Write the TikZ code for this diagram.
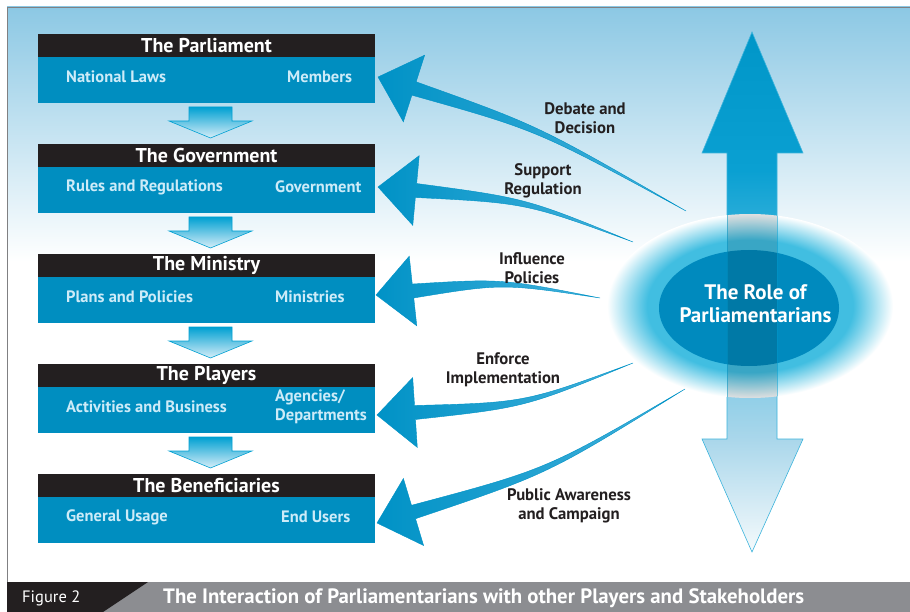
\documentclass[tikz,border=0pt]{standalone}
\usepackage{fontspec}
\setmainfont{PT Sans}
\usetikzlibrary{positioning,calc,shapes.geometric}

\definecolor{headblack}{RGB}{35,31,32}
\definecolor{bodyblue}{RGB}{0,142,192}
\definecolor{bodytextc}{RGB}{205,235,248}
\definecolor{bgtop}{RGB}{140,200,228}
\definecolor{framegray}{RGB}{128,128,130}
\definecolor{bargray}{RGB}{140,141,145}
\definecolor{labelc}{RGB}{35,31,32}
\definecolor{arrowblue}{RGB}{0,146,198}
\definecolor{arrowlight}{RGB}{70,178,220}
\definecolor{roleblue}{RGB}{0,138,190}
\definecolor{glowcyan}{RGB}{65,190,225}
\definecolor{flowtop}{RGB}{0,160,210}
\definecolor{flowbottom}{RGB}{215,238,248}
\definecolor{shaftA}{RGB}{0,150,200}
\definecolor{shaftB}{RGB}{10,160,210}
\definecolor{shaftC}{RGB}{60,180,220}
\definecolor{shaftD}{RGB}{170,215,235}
\definecolor{shaftE}{RGB}{245,250,252}

\pgfdeclareverticalshading{roleshade}{100bp}{color(0bp)=(shaftE); color(25bp)=(shaftE);
  color(35.8bp)=(shaftD); color(54bp)=(shaftC); color(61.7bp)=(shaftB);
  color(75bp)=(shaftA); color(100bp)=(shaftA)}
\pgfdeclareradialshading{glowshade}{\pgfpoint{0bp}{0bp}}{color(0bp)=(glowcyan);
  color(18bp)=(glowcyan); color(25bp)=(white); color(50bp)=(white)}

% tail, control, base of head, tip
\newcommand{\rolearrow}[4]{%
  \coordinate (sp) at ($(#3)!7pt!90:(#4)$);
  \coordinate (sm) at ($(#3)!7pt!-90:(#4)$);
  \coordinate (hp) at ($(#3)!35pt!90:(#4)$);
  \coordinate (hm) at ($(#3)!35pt!-90:(#4)$);
  \coordinate (cp) at ($(#2)+0.35*(sp)-0.35*(#3)$);
  \coordinate (cm) at ($(#2)+0.35*(sm)-0.35*(#3)$);
  \path[curvearrow] (#1) .. controls (cp) .. (sp) -- (hp) -- (#4) -- (hm) -- (sm) .. controls (cm) .. (#1) -- cycle;
}

\begin{document}
\begin{tikzpicture}[x=1pt,y=-1pt,
    headbox/.style={fill=headblack,text=white,font=\bfseries\fontsize{20}{22}\selectfont,
      minimum width=337pt,minimum height=23pt,inner sep=0pt,outer sep=0pt},
    bodybox/.style={fill=bodyblue,minimum width=337pt,minimum height=46pt,inner sep=0pt,
      outer sep=0pt,below=0pt of #1},
    bodytext/.style={text=bodytextc,font=\bfseries\fontsize{16.5}{19}\selectfont,inner sep=0pt,
      align=left,yshift=3pt},
    flowarrow/.style={top color=flowtop,bottom color=flowbottom,draw=flowtop,line width=0.6pt},
    curvearrow/.style={left color=arrowblue,right color=arrowlight,draw=arrowblue,line width=0.4pt},
    label/.style={text=labelc,font=\bfseries\fontsize{16.7}{19}\selectfont,align=center,inner sep=0pt}]

  \useasboundingbox (0,0) rectangle (910,612);
  \fill[white] (0,0) rectangle (910,612);
  \shade[top color=bgtop,bottom color=white] (7,7) rectangle (910,262);
  \draw[framegray,line width=1.5pt] (7.5,582) -- (7.5,7.5) -- (910,7.5);

  % left column
  \node[headbox] (parlhead) at (206.5,45.5) {The Parliament};
  \node[bodybox=parlhead] (parlbody) {};
  \node[headbox,below=41pt of parlbody] (govhead) {The Government};
  \node[bodybox=govhead] (govbody) {};
  \node[headbox,below=41pt of govbody] (minhead) {The Ministry};
  \node[bodybox=minhead] (minbody) {};
  \node[headbox,below=41pt of minbody] (playhead) {The Players};
  \node[bodybox=playhead] (playbody) {};
  \node[headbox,below=41pt of playbody] (benhead) {The Beneficiaries};
  \node[bodybox=benhead] (benbody) {};

  \node[bodytext,anchor=west] (parlleft) at ([xshift=28pt]parlbody.west) {National Laws};
  \node[bodytext,anchor=west] (parlright) at ([xshift=-88pt]parlbody.east) {Members};
  \node[bodytext,anchor=west] (govleft) at ([xshift=28pt]govbody.west) {Rules and Regulations};
  \node[bodytext,anchor=west] (govright) at ([xshift=-100pt]govbody.east) {Government};
  \node[bodytext,anchor=west] (minleft) at ([xshift=28pt]minbody.west) {Plans and Policies};
  \node[bodytext,anchor=west] (minright) at ([xshift=-100pt]minbody.east) {Ministries};
  \node[bodytext,anchor=west] (playleft) at ([xshift=28pt]playbody.west) {Activities and Business};
  \node[bodytext,anchor=west] (playright) at ([xshift=-100pt]playbody.east) {Agencies/\\Departments};
  \node[bodytext,anchor=west] (benleft) at ([xshift=28pt]benbody.west) {General Usage};
  \node[bodytext,anchor=west] (benright) at ([xshift=-94pt]benbody.east) {End Users};

  \foreach \b in {parlbody,govbody,minbody,playbody}
    \path[flowarrow] ($(\b.south)+(-17.5,4)$) -- ++(43,0) -- ++(0,14) -- ++(20,0)
      -- ++(-41.5,17) -- ++(-41.5,-17) -- ++(20,0) -- cycle;

  % right column
  \shade[shading=roleshade,draw=shaftC,line width=0.6pt] (752,32) -- (803,153) -- (777,153)
    -- (777,439) -- (803,439) -- (752,552) -- (702,439) -- (727,439) -- (727,153)
    -- (702,153) -- cycle;
  \shade[shading=glowshade] (750,306) ellipse [x radius=143,y radius=92];
  \fill[roleblue] (749,308) ellipse [x radius=90,y radius=58];
  \begin{scope}
    \clip (750,306) ellipse [x radius=143,y radius=92];
    \fill[black,fill opacity=0.12] (727,200) rectangle (777,420);
    \draw[shaftA,opacity=0.5,line width=0.6pt] (727,200) -- (727,420) (777,200) -- (777,420);
  \end{scope}
  \node[text=white,font=\bfseries\fontsize{21}{23}\selectfont,align=center] (role)
    at (755.5,303.5) {The Role of\\Parliamentarians};

  % connectors
  \coordinate (tail1) at (686,211);  \coordinate (ctrl1) at (538,128);
  \coordinate (base1) at (414,88.5); \coordinate (tip1) at (378,77);
  \coordinate (tail2) at (633,242);  \coordinate (ctrl2) at (526,200.6);
  \coordinate (base2) at (416,190.5);\coordinate (tip2) at (378,187);
  \coordinate (tail3) at (600,298);  \coordinate (ctrl3) at (502,281);
  \coordinate (base3) at (413,291);  \coordinate (tip3) at (376,295);
  \coordinate (tail4) at (633,363);  \coordinate (ctrl4) at (525,405);
  \coordinate (base4) at (415,412.5);\coordinate (tip4) at (377,415);
  \coordinate (tail5) at (685,389);  \coordinate (ctrl5) at (547.6,471.6);
  \coordinate (base5) at (413.5,512);\coordinate (tip5) at (377,523);
  \foreach \i in {1,...,5}{
    \rolearrow{tail\i}{ctrl\i}{base\i}{tip\i}
  }

  \node[label] (lab1) at (585,118) {Debate and\\Decision};
  \node[label] (lab2) at (543,181) {Support\\Regulation};
  \node[label] (lab3) at (532,268.5) {Influence\\Policies};
  \node[label] (lab4) at (503,370) {Enforce\\Implementation};
  \node[label] (lab5) at (569,506) {Public Awareness\\and Campaign};

  % caption bar
  \fill[bargray] (7,582) rectangle (910,612);
  \fill[headblack] (7,582) -- (148,582) -- (103,612) -- (7,612) -- cycle;
  \node[anchor=west,text=white,inner sep=0pt,font=\fontsize{16.5}{18}\selectfont] (fig) at (22,598) {Figure 2};
  \node[anchor=west,text=white,inner sep=0pt,font=\bfseries\fontsize{20.8}{22}\selectfont] (title)
    at (163,598) {The Interaction of Parliamentarians with other Players and Stakeholders};
\end{tikzpicture}
\end{document}
